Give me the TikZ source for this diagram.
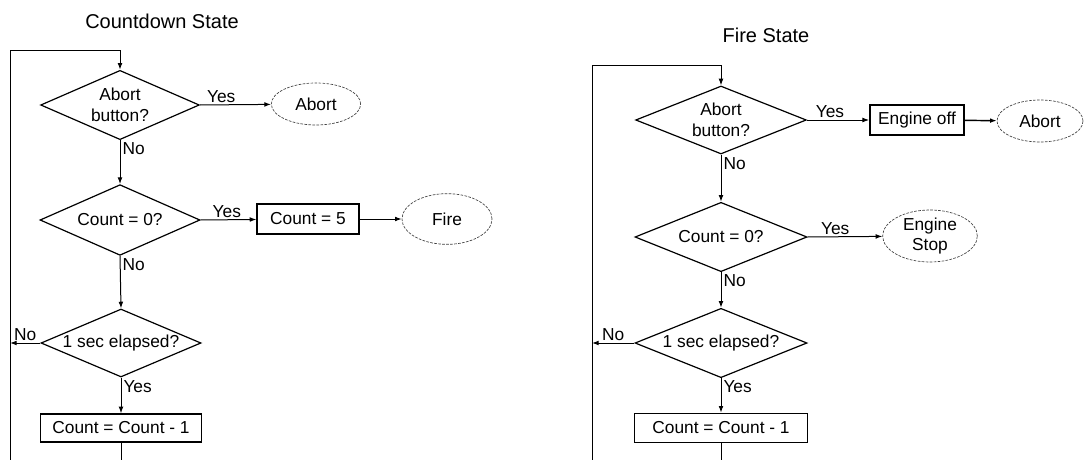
\documentclass[tikz,border=0pt]{standalone}
\usepackage{fontspec}
\setmainfont{Liberation Sans}
\usetikzlibrary{shapes.geometric, arrows.meta}

\tikzset{
  decision/.style={draw, shape=diamond, aspect=2.3, inner sep=0pt,
                   line width=0.9pt, align=center,
                   font=\fontsize{13}{16}\selectfont},
  action/.style={draw, rectangle, inner sep=0pt, line width=1pt,
                 font=\fontsize{13}{16}\selectfont},
  stateend/.style={draw=black!75, ellipse, inner sep=0pt, align=center,
                   dash pattern=on 2pt off 1pt, line width=0.5pt,
                   font=\fontsize{13}{15}\selectfont},
  flow/.style={-{Latex[length=5pt,width=3.6pt]}, line width=0.75pt},
  lbl/.style={font=\fontsize{13}{16}\selectfont, inner sep=1.5pt},
  heading/.style={font=\fontsize{15}{18}\selectfont}
}

\begin{document}
\begin{tikzpicture}[x=0.75pt, y=-0.75pt]
  \useasboundingbox (0,0) rectangle (1089,460);

  % countdown state
  \node[heading] (titleL) at (162,21) {Countdown State};
  \node[decision, minimum width=119pt, minimum height=52pt] (abtL) at (120,105) {Abort\\button?};
  \node[stateend, minimum width=67pt, minimum height=31.5pt] (abortL) at (316,104) {Abort};
  \node[decision, minimum width=120pt, minimum height=53pt] (zeroL) at (120,220) {Count = 0?};
  \node[action, line width=1.4pt, minimum width=76pt, minimum height=22pt] (resetL) at (308,219) {Count = 5};
  \node[stateend, minimum width=67.5pt, minimum height=38pt] (fireL) at (447,219) {Fire};
  \node[decision, minimum width=120pt, minimum height=51pt] (secL) at (121,343) {1 sec elapsed?};
  \node[action, minimum width=121pt, minimum height=21pt] (decL) at (121,428) {Count = Count - 1};
  \coordinate (topL) at (120,51);
  \coordinate (botL) at (10,462);

  \draw[flow] (abtL.east) -- node[lbl, above, pos=0.3] {Yes} (abortL);
  \draw[flow] (abtL.south) -- node[lbl, anchor=north west, pos=0] {No} (zeroL.north);
  \draw[flow] (zeroL.east) -- node[lbl, above, pos=0.47] {Yes} (resetL);
  \draw[flow] (resetL) -- (fireL);
  \draw[flow] (zeroL.south) -- node[lbl, anchor=north west, pos=0] {No} (secL.north);
  \draw[flow] (secL.west) -- node[lbl, above, pos=0.5] {No} (secL.west -| botL);
  \draw[flow] (secL.south) -- node[lbl, anchor=north west, pos=0] {Yes} (decL.north);
  \draw[line width=0.75pt] (decL.south) -- (decL.south |- botL);
  \draw[flow] (botL) |- (topL) -- (abtL.north);

  % fire state
  \node[heading] (titleR) at (766,35) {Fire State};
  \node[decision, minimum width=128pt, minimum height=51pt] (abtR) at (721,120) {Abort\\button?};
  \node[action, line width=1.3pt, minimum width=70.5pt, minimum height=22.5pt] (offR) at (917,120) {Engine off};
  \node[stateend, minimum width=64.5pt, minimum height=31.5pt] (abortR) at (1040,121) {Abort};
  \node[decision, minimum width=129pt, minimum height=52pt] (zeroR) at (721,237) {Count = 0?};
  \node[stateend, minimum width=71pt, minimum height=39pt] (stopR) at (930,236) {Engine\\Stop};
  \node[decision, minimum width=129pt, minimum height=52pt] (secR) at (721,343) {1 sec elapsed?};
  \node[action, minimum width=130pt, minimum height=22pt] (decR) at (721,428) {Count = Count - 1};
  \coordinate (topR) at (721,66);
  \coordinate (botR) at (592,462);

  \draw[flow] (abtR.east) -- node[lbl, above, pos=0.37] {Yes} (offR);
  \draw[flow, line width=1.1pt] (offR) -- (abortR);
  \draw[flow] (abtR.south) -- node[lbl, anchor=north west, pos=0] {No} (zeroR.north);
  \draw[flow] (zeroR.east) -- node[lbl, above, pos=0.37] {Yes} (stopR);
  \draw[flow] (zeroR.south) -- node[lbl, anchor=north west, pos=0] {No} (secR.north);
  \draw[flow] (secR.west) -- node[lbl, above, pos=0.5] {No} (secR.west -| botR);
  \draw[flow] (secR.south) -- node[lbl, anchor=north west, pos=0] {Yes} (decR.north);
  \draw[line width=0.75pt] (decR.south) -- (decR.south |- botR);
  \draw[flow] (botR) |- (topR) -- (abtR.north);
\end{tikzpicture}
\end{document}
